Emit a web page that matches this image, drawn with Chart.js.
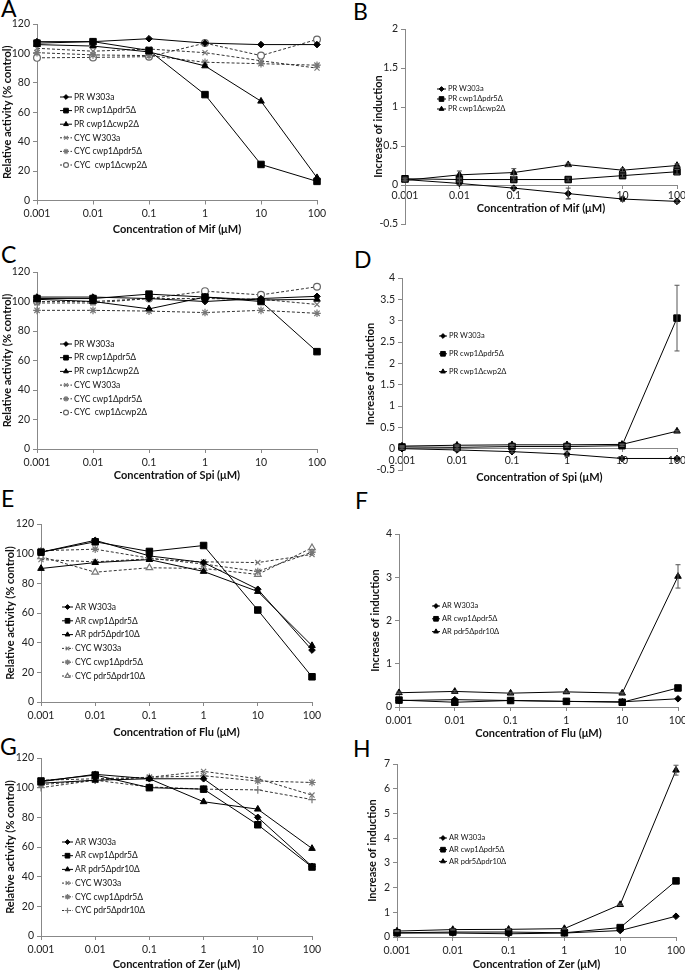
<!DOCTYPE html>
<html><head><meta charset="utf-8">
<script src="https://cdn.jsdelivr.net/npm/chart.js@4.4.0/dist/chart.umd.min.js"></script>
<style>
html,body{margin:0;padding:0;background:#fff;overflow:hidden;width:685px;height:970px;position:relative;}
.letter{position:absolute;font-family:Lato,'Open Sans',sans-serif;font-size:23px;line-height:23px;color:#000;}
</style></head><body>
<div class="letter" style="left:1px;top:-3px">A</div>
<div class="letter" style="left:353px;top:0px">B</div>
<div class="letter" style="left:1px;top:243px">C</div>
<div class="letter" style="left:354px;top:248px">D</div>
<div class="letter" style="left:1px;top:487px">E</div>
<div class="letter" style="left:355px;top:489px">F</div>
<div class="letter" style="left:0px;top:735px">G</div>
<div class="letter" style="left:353px;top:737px">H</div>
<script>
const FONT = "Lato, 'Open Sans', sans-serif";
const concentrations = ['0.001','0.01','0.1','1','10','100'];

// ---- Panel A: Mif, relative activity ----
const mifPR_W303a     = [108, 108, 110, 107, 106, 106];
const mifPR_cwp1pdr5  = [107, 108, 102, 72, 24.5, 13];
const mifPR_cwp1cwp2  = [106, 105, 101, 91.5, 67.5, 15.5];
const mifCYC_W303a    = [103.5, 101.5, 103, 100.5, 95, 90];
const mifCYC_cwp1pdr5 = [100.5, 99, 98.5, 94, 93, 92];
const mifCYC_cwp1cwp2 = [97, 97.3, 97.8, 107, 98.5, 109.5];
const labelsPR6 = ['PR W303a','PR cwp1Δpdr5Δ','PR cwp1Δcwp2Δ','CYC W303a','CYC cwp1Δpdr5Δ','CYC  cwp1Δcwp2Δ'];

// ---- Panel B: Mif, increase of induction ----
const mifInd_W303a    = [0.07, 0.02, -0.04, -0.11, -0.18, -0.21];
const mifInd_cwp1pdr5 = [0.08, 0.07, 0.07, 0.07, 0.12, 0.17];
const mifInd_cwp1cwp2 = [0.06, 0.13, 0.16, 0.26, 0.19, 0.25];
const mifErr_W303a    = [0.01, 0.02, 0.02, 0.07, 0.03, 0.02];
const mifErr_cwp1pdr5 = [0.02, 0.02, 0.02, 0.02, 0.02, 0.03];
const mifErr_cwp1cwp2 = [0.02, 0.05, 0.05, 0.02, 0.02, 0.02];
const labelsPR3 = ['PR W303a','PR cwp1Δpdr5Δ','PR cwp1Δcwp2Δ'];

// ---- Panel C: Spi, relative activity ----
const spiPR_W303a     = [103, 103, 102, 100, 102, 103.5];
const spiPR_cwp1pdr5  = [102, 102, 105, 103, 100, 66];
const spiPR_cwp1cwp2  = [101.5, 100, 95, 103, 101, 101.5];
const spiCYC_W303a    = [99, 99, 102, 102, 101.5, 98];
const spiCYC_cwp1pdr5 = [94, 94, 93.5, 92.5, 94, 92];
const spiCYC_cwp1cwp2 = [100, 100, 102, 107, 104.5, 110];

// ---- Panel D: Spi, increase of induction ----
const spiInd_W303a    = [0, -0.03, -0.07, -0.13, -0.23, -0.23];
const spiInd_cwp1pdr5 = [0.04, 0.03, 0.05, 0.05, 0.07, 3.06];
const spiInd_cwp1cwp2 = [0.06, 0.08, 0.09, 0.09, 0.1, 0.41];
const spiErr_W303a    = [0.02, 0.02, 0.03, 0.05, 0.04, 0.04];
const spiErr_cwp1pdr5 = [0.02, 0.02, 0.02, 0.02, 0.02, 0.77];
const spiErr_cwp1cwp2 = [0.01, 0.01, 0.01, 0.01, 0.01, 0.02];

// ---- Panel E: Flu, relative activity ----
const fluAR_W303a      = [101, 109, 98.5, 94, 76, 35];
const fluAR_cwp1pdr5   = [101, 108, 101.5, 105.5, 62, 17];
const fluAR_pdr5pdr10  = [90, 94, 96, 88, 74.5, 38];
const fluCYC_W303a     = [96, 94.5, 96.5, 94.5, 94, 99.5];
const fluCYC_cwp1pdr5  = [102, 103, 97, 93, 88, 101];
const fluCYC_pdr5pdr10 = [98, 87.5, 90.5, 90, 86, 104];
const labelsAR6 = ['AR W303a','AR cwp1Δpdr5Δ','AR pdr5Δpdr10Δ','CYC W303a','CYC cwp1Δpdr5Δ','CYC pdr5Δpdr10Δ'];

// ---- Panel F: Flu, increase of induction ----
const fluInd_W303a     = [0.15, 0.17, 0.15, 0.13, 0.12, 0.19];
const fluInd_cwp1pdr5  = [0.16, 0.11, 0.15, 0.13, 0.11, 0.44];
const fluInd_pdr5pdr10 = [0.33, 0.36, 0.32, 0.35, 0.32, 3.02];
const fluErr_pdr5pdr10 = [0.02, 0.02, 0.02, 0.02, 0.02, 0.27];
const labelsAR3 = ['AR W303a','AR cwp1Δpdr5Δ','AR pdr5Δpdr10Δ'];

// ---- Panel G: Zer, relative activity ----
const zerAR_W303a      = [104, 109, 106, 106, 80, 47];
const zerAR_cwp1pdr5   = [104.5, 108.5, 100, 99, 75, 46.5];
const zerAR_pdr5pdr10  = [103, 105, 106, 90.5, 85.5, 59];
const zerCYC_W303a     = [105, 106, 107, 111, 106, 95];
const zerCYC_cwp1pdr5  = [102, 105, 107, 108, 104.5, 103.5];
const zerCYC_pdr5pdr10 = [100, 105, 100.5, 99, 98.5, 92];

// ---- Panel H: Zer, increase of induction ----
const zerInd_W303a     = [0.16, 0.16, 0.13, 0.16, 0.26, 0.84];
const zerInd_cwp1pdr5  = [0.17, 0.2, 0.2, 0.17, 0.38, 2.27];
const zerInd_pdr5pdr10 = [0.24, 0.3, 0.31, 0.34, 1.31, 6.75];
const zerErr_pdr5pdr10 = [0.02, 0.02, 0.02, 0.02, 0.03, 0.2];

// ---- marker / line styles ----
const ST = {
  diamond:  {ps:'rectRot',  r:3.3, bg:'#000', bc:'#000', bw:1,   line:'#000', dash:[]},
  square:   {ps:'rect',     r:4.6, bg:'#000', bc:'#000', bw:1,   line:'#000', dash:[]},
  triangle: {ps:'triangle', r:3.8, bg:'#000', bc:'#000', bw:1,   line:'#000', dash:[]},
  xmark:    {ps:'crossRot', r:3.6, bg:'#fff', bc:'#777', bw:1.2, line:'#333', dash:[3,2]},
  star:     {ps:'star',     r:3.8, bg:'#fff', bc:'#777', bw:1.2, line:'#333', dash:[3,2]},
  circle:   {ps:'circle',   r:3.4, bg:'#fff', bc:'#666', bw:1.2, line:'#333', dash:[3,2]},
  openTri:  {ps:'triangle', r:3.8, bg:'#fff', bc:'#777', bw:1.2, line:'#333', dash:[3,2]},
  plus:     {ps:'cross',    r:3.8, bg:'#fff', bc:'#777', bw:1.2, line:'#333', dash:[3,2]}
};

const REL = 'Relative activity (% control)';
const IND = 'Increase of induction';

const panels = [
 {left:0, top:0, w:345, h:240, x0:37, x1:317, yTop:24, yBot:200.5, min:0, max:120, step:20,
  xTitle:'Concentration of Mif (μM)', yTitle:REL, xTitleY:229, yTitleX:7, tickPad:3,
  legend:{x1:60, x2:72, tx:74, y:97, step:13.6, size:8.5},
  series:[[mifPR_W303a,'diamond'],[mifPR_cwp1pdr5,'square'],[mifPR_cwp1cwp2,'triangle'],
          [mifCYC_W303a,'xmark'],[mifCYC_cwp1pdr5,'star'],[mifCYC_cwp1cwp2,'circle']], labels:labelsPR6},
 {left:340, top:0, w:345, h:240, x0:405, x1:677, yTop:29, yBot:224, min:-0.5, max:2, step:0.5, zero:true,
  xTitle:'Concentration of Mif (μM)', yTitle:IND, xTitleY:208, yTitleX:378, tickPad:1,
  legend:{x1:437, x2:446, tx:448, y:89, step:10, size:7.5},
  series:[[mifInd_W303a,'diamond',mifErr_W303a],[mifInd_cwp1pdr5,'square',mifErr_cwp1pdr5],[mifInd_cwp1cwp2,'triangle',mifErr_cwp1cwp2]], labels:labelsPR3},
 {left:0, top:240, w:345, h:245, x0:37, x1:317, yTop:272, yBot:449, min:0, max:120, step:20,
  xTitle:'Concentration of Spi (μM)', yTitle:REL, xTitleY:475, yTitleX:7, tickPad:3,
  legend:{x1:60, x2:72, tx:74, y:344, step:13.7, size:8.5},
  series:[[spiPR_W303a,'diamond'],[spiPR_cwp1pdr5,'square'],[spiPR_cwp1cwp2,'triangle'],
          [spiCYC_W303a,'xmark'],[spiCYC_cwp1pdr5,'star'],[spiCYC_cwp1cwp2,'circle']], labels:labelsPR6},
 {left:340, top:240, w:345, h:245, x0:402, x1:677, yTop:278, yBot:470, min:-0.5, max:4, step:0.5, zero:true,
  xTitle:'Concentration of Spi (μM)', yTitle:IND, xTitleY:477, yTitleX:370, tickPad:3,
  legend:{x1:439, x2:447, tx:449, y:336, step:17.8, size:7.5},
  series:[[spiInd_W303a,'diamond',spiErr_W303a],[spiInd_cwp1pdr5,'square',spiErr_cwp1pdr5],[spiInd_cwp1cwp2,'triangle',spiErr_cwp1cwp2]], labels:labelsPR3},
 {left:0, top:480, w:345, h:260, x0:41, x1:312, yTop:524, yBot:702, min:0, max:120, step:20,
  xTitle:'Concentration of Flu (μM)', yTitle:REL, xTitleY:732, yTitleX:10, tickPad:3,
  legend:{x1:62, x2:73, tx:75, y:607, step:13.8, size:8.5},
  series:[[fluAR_W303a,'diamond'],[fluAR_cwp1pdr5,'square'],[fluAR_pdr5pdr10,'triangle'],
          [fluCYC_W303a,'xmark'],[fluCYC_cwp1pdr5,'star'],[fluCYC_pdr5pdr10,'openTri']], labels:labelsAR6},
 {left:340, top:480, w:345, h:260, x0:399, x1:678, yTop:534, yBot:707, min:0, max:4, step:1,
  xTitle:'Concentration of Flu (μM)', yTitle:IND, xTitleY:733, yTitleX:375, tickPad:3,
  legend:{x1:432, x2:440, tx:442, y:606, step:12.8, size:7.5},
  series:[[fluInd_W303a,'diamond'],[fluInd_cwp1pdr5,'square'],[fluInd_pdr5pdr10,'triangle',fluErr_pdr5pdr10]], labels:labelsAR3},
 {left:0, top:725, w:345, h:245, x0:41, x1:312, yTop:758, yBot:936, min:0, max:120, step:20,
  xTitle:'Concentration of Zer (μM)', yTitle:REL, xTitleY:964, yTitleX:10, tickPad:3,
  legend:{x1:62, x2:73, tx:75, y:842, step:13.7, size:8.5},
  series:[[zerAR_W303a,'diamond'],[zerAR_cwp1pdr5,'square'],[zerAR_pdr5pdr10,'triangle'],
          [zerCYC_W303a,'xmark'],[zerCYC_cwp1pdr5,'star'],[zerCYC_pdr5pdr10,'plus']], labels:labelsAR6},
 {left:340, top:725, w:345, h:245, x0:397, x1:676, yTop:764, yBot:937, min:0, max:7, step:1,
  xTitle:'Concentration of Zer (μM)', yTitle:IND, xTitleY:964, yTitleX:372, tickPad:3,
  legend:{x1:439, x2:447, tx:449, y:838, step:11.7, size:7.5},
  series:[[zerInd_W303a,'diamond'],[zerInd_cwp1pdr5,'square'],[zerInd_pdr5pdr10,'triangle',zerErr_pdr5pdr10]], labels:labelsAR3}
];

const legendPlugin = {
  id:'insideLegend',
  afterDraw(chart, args, o) {
    const ctx = chart.ctx;
    ctx.save();
    chart.data.datasets.forEach((ds, i) => {
      const y = o.y + i * o.step;
      ctx.beginPath();
      ctx.setLineDash(ds.borderDash && ds.borderDash.length ? [2, 1.5] : []);
      ctx.strokeStyle = ds.borderColor; ctx.lineWidth = 1;
      ctx.moveTo(o.x1, y); ctx.lineTo(o.x2, y); ctx.stroke();
      ctx.setLineDash([]);
      ctx.fillStyle = ds.pointBackgroundColor; ctx.strokeStyle = ds.pointBorderColor;
      ctx.lineWidth = ds.pointBorderWidth;
      Chart.helpers.drawPoint(ctx, {pointStyle: ds.pointStyle, radius: ds.pointRadius * 0.72, rotation: 0, borderWidth: ds.pointBorderWidth}, (o.x1 + o.x2) / 2, y);
      ctx.fillStyle = '#111';
      ctx.font = o.size + 'px ' + FONT;
      ctx.textBaseline = 'middle'; ctx.textAlign = 'left';
      ctx.fillText(ds.label, o.tx, y);
    });
    ctx.restore();
  }
};

const errorBarPlugin = {
  id:'errorBars',
  afterDatasetsDraw(chart) {
    const ctx = chart.ctx, ys = chart.scales.y;
    chart.data.datasets.forEach((ds, i) => {
      if (!ds.errors) return;
      const meta = chart.getDatasetMeta(i);
      meta.data.forEach((pt, j) => {
        const e = ds.errors[j]; if (!e) return;
        const v = ds.data[j];
        const t = ys.getPixelForValue(v + e), b = ys.getPixelForValue(v - e);
        ctx.save(); ctx.strokeStyle = '#555'; ctx.lineWidth = 1; ctx.beginPath();
        ctx.moveTo(pt.x, t); ctx.lineTo(pt.x, b);
        ctx.moveTo(pt.x - 2.5, t); ctx.lineTo(pt.x + 2.5, t);
        ctx.moveTo(pt.x - 2.5, b); ctx.lineTo(pt.x + 2.5, b);
        ctx.stroke(); ctx.restore();
      });
    });
  }
};

const fmtTick = v => String(Number(Number(v).toFixed(3)));

panels.forEach(p => {
  const cv = document.createElement('canvas');
  cv.width = p.w; cv.height = p.h;
  cv.style.cssText = `position:absolute;left:${p.left}px;top:${p.top}px;width:${p.w}px;height:${p.h}px;`;
  document.body.appendChild(cv);
  const yAxisW = p.x0 - p.left;
  const padTop = p.yTop - p.top;
  const padRight = p.left + p.w - p.x1;
  const zeroPix = p.yBot - (0 - p.min) / (p.max - p.min) * (p.yBot - p.yTop);
  const xAxisH = p.zero ? (p.xTitleY - zeroPix + 6.6) : (p.top + p.h - p.yBot);
  const titlePadB = p.zero ? 0 : (p.top + p.h - p.xTitleY - 6.6);
  const yTitlePad = p.yTitleX - p.left - 6.6;
  const lg = p.legend;
  const datasets = p.series.map((s, i) => {
    const st = ST[s[1]];
    return {
      label: p.labels[i], data: s[0], errors: s[2] || null,
      borderColor: st.line, borderWidth: 1, borderDash: st.dash,
      pointStyle: st.ps, pointRadius: st.r, pointBackgroundColor: st.bg,
      pointBorderColor: st.bc, pointBorderWidth: st.bw, tension: 0, fill: false, clip: false
    };
  });
  new Chart(cv, {
    type: 'line',
    data: {labels: concentrations, datasets},
    plugins: [errorBarPlugin, legendPlugin],
    options: {
      responsive: false, animation: false, devicePixelRatio: 1,
      layout: {padding: {left: 0, top: padTop, right: padRight, bottom: p.zero ? (p.top + p.h - p.yBot) : 0}},
      plugins: {
        legend: {display: false}, tooltip: {enabled: false},
        insideLegend: {x1: lg.x1 - p.left, x2: lg.x2 - p.left, tx: lg.tx - p.left, y: lg.y - p.top, step: lg.step, size: lg.size}
      },
      scales: {
        x: {
          type: 'category', offset: false,
          position: p.zero ? {y: 0} : 'bottom',
          grid: {drawOnChartArea: false, drawTicks: true, tickLength: p.zero ? 3 : 4, color: '#888'},
          border: {display: true, color: '#888', width: 1},
          ticks: {font: {family: FONT, size: 10.5}, color: '#222', padding: p.tickPad, maxRotation: 0, autoSkip: false},
          title: {display: true, text: p.xTitle, color: '#111', font: {family: FONT, size: 11, weight: 'bold'}, padding: {top: 0, bottom: titlePadB}},
          afterFit(s) { s.height = xAxisH; s.paddingLeft = 0; s.paddingRight = 0; }
        },
        y: {
          min: p.min, max: p.max,
          ticks: {stepSize: p.step, font: {family: FONT, size: 10.5}, color: '#222', padding: 3, callback: fmtTick},
          grid: {drawOnChartArea: false, drawTicks: true, tickLength: 4, color: '#888'},
          border: {display: true, color: '#888', width: 1},
          title: {display: true, text: p.yTitle, color: '#111', font: {family: FONT, size: 11, weight: 'bold'}, padding: {top: yTitlePad, bottom: 0}},
          afterFit(s) { s.width = yAxisW; s.paddingTop = 0; s.paddingBottom = 0; }
        }
      }
    }
  });
});
</script>
</body></html>
